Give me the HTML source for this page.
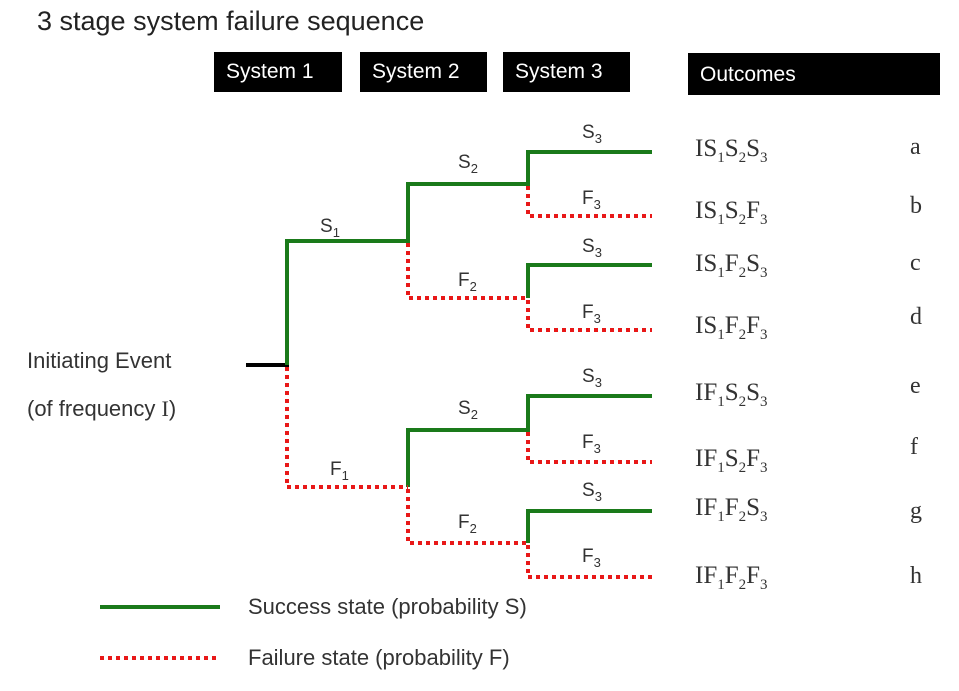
<!DOCTYPE html>
<html><head><style>
body{margin:0;width:959px;height:691px;background:#fff;position:relative;overflow:hidden;font-family:"Liberation Sans",sans-serif}
.t{position:absolute;white-space:nowrap}
.box{position:absolute;background:#000;color:#fff;font-size:21px;line-height:40px;padding-left:12px;box-sizing:border-box}
.o{position:absolute;font-family:"Liberation Serif",serif;font-size:25px;color:#333;left:695px}
.o sub{font-size:15px}
.l{position:absolute;font-family:"Liberation Serif",serif;font-size:24px;color:#333;left:910px}
</style></head><body>
<div class="t" style="left:37px;top:6px;font-size:27px;color:#222">3 stage system failure sequence</div>
<div class="box" style="left:214px;top:52px;width:128px;height:40px">System 1</div>
<div class="box" style="left:360px;top:52px;width:127px;height:40px">System 2</div>
<div class="box" style="left:503px;top:52px;width:127px;height:40px">System 3</div>
<div class="box" style="left:688px;top:53px;width:252px;height:42px;line-height:44px">Outcomes</div>
<svg width="959" height="691" style="position:absolute;left:0;top:0" font-family="Liberation Sans" font-size="19" fill="#333">
<g fill="none" stroke-width="4">
<line x1="246" y1="365" x2="289" y2="365" stroke="#000"/>
<g stroke="#1a7a1a">
<polyline points="287,365 287,241 408,241 408,184 528,184 528,152 652,152"/>
<polyline points="528,298 528,265 652,265"/>
<polyline points="408,487 408,430 528,430 528,396 652,396"/>
<polyline points="528,543 528,511 652,511"/>
<line x1="100" y1="607" x2="220" y2="607"/>
</g>
<g stroke="#e81818" stroke-dasharray="4,4">
<polyline points="287,367 287,487 408,487"/>
<polyline points="408,243 408,298 528,298"/>
<polyline points="528,186 528,216 652,216"/>
<polyline points="528,300 528,330 652,330"/>
<polyline points="408,489 408,543 528,543"/>
<polyline points="528,432 528,462 652,462"/>
<polyline points="528,545 528,577 652,577"/>
<line x1="100" y1="658" x2="220" y2="658"/>
</g></g>
<text x="320" y="232">S<tspan font-size="13" dy="5">1</tspan></text>
<text x="330" y="475">F<tspan font-size="13" dy="5">1</tspan></text>
<text x="458" y="168">S<tspan font-size="13" dy="5">2</tspan></text>
<text x="458" y="286">F<tspan font-size="13" dy="5">2</tspan></text>
<text x="458" y="414">S<tspan font-size="13" dy="5">2</tspan></text>
<text x="458" y="528">F<tspan font-size="13" dy="5">2</tspan></text>
<text x="582" y="138">S<tspan font-size="13" dy="5">3</tspan></text>
<text x="582" y="204">F<tspan font-size="13" dy="5">3</tspan></text>
<text x="582" y="252">S<tspan font-size="13" dy="5">3</tspan></text>
<text x="582" y="318">F<tspan font-size="13" dy="5">3</tspan></text>
<text x="582" y="382">S<tspan font-size="13" dy="5">3</tspan></text>
<text x="582" y="448">F<tspan font-size="13" dy="5">3</tspan></text>
<text x="582" y="496">S<tspan font-size="13" dy="5">3</tspan></text>
<text x="582" y="562">F<tspan font-size="13" dy="5">3</tspan></text>
</svg>
<div class="t" style="left:27px;top:348px;font-size:22px;color:#333">Initiating Event</div>
<div class="t" style="left:27px;top:396px;font-size:22px;color:#333">(of frequency <span style="font-family:'Liberation Serif',serif">I</span>)</div>
<div class="t" style="left:248px;top:594px;font-size:22px;color:#333">Success state (probability S)</div>
<div class="t" style="left:248px;top:645px;font-size:22px;color:#333">Failure state (probability F)</div>
<div class="o" style="top:135px">IS<sub>1</sub>S<sub>2</sub>S<sub>3</sub></div>
<div class="o" style="top:197px">IS<sub>1</sub>S<sub>2</sub>F<sub>3</sub></div>
<div class="o" style="top:250px">IS<sub>1</sub>F<sub>2</sub>S<sub>3</sub></div>
<div class="o" style="top:312px">IS<sub>1</sub>F<sub>2</sub>F<sub>3</sub></div>
<div class="o" style="top:379px">IF<sub>1</sub>S<sub>2</sub>S<sub>3</sub></div>
<div class="o" style="top:445px">IF<sub>1</sub>S<sub>2</sub>F<sub>3</sub></div>
<div class="o" style="top:494px">IF<sub>1</sub>F<sub>2</sub>S<sub>3</sub></div>
<div class="o" style="top:562px">IF<sub>1</sub>F<sub>2</sub>F<sub>3</sub></div>
<div class="l" style="top:134px">a</div>
<div class="l" style="top:193px">b</div>
<div class="l" style="top:250px">c</div>
<div class="l" style="top:304px">d</div>
<div class="l" style="top:373px">e</div>
<div class="l" style="top:434px">f</div>
<div class="l" style="top:498px">g</div>
<div class="l" style="top:563px">h</div>
</body></html>
